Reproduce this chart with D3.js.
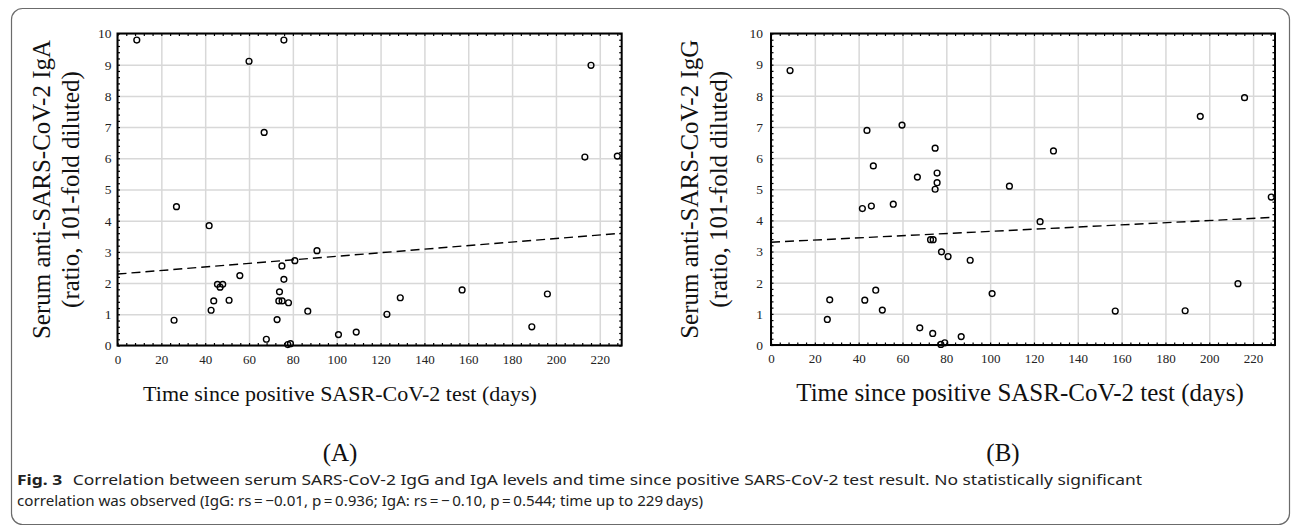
<!DOCTYPE html>
<html>
<head>
<meta charset="utf-8">
<script src="https://cdn.jsdelivr.net/npm/d3@7"></script>
<style>
  body { margin: 0; background: #fff; }
  svg { display: block; }
</style>
</head>
<body>
<div id="chart"></div>
<script>

// Panel A: IgA vs days
var igaDays = [8.8, 60.0, 75.9, 66.9, 216.0, 213.2, 228.0, 26.9, 41.8, 25.8, 42.7, 43.9, 45.6, 46.8, 48.0, 50.9, 55.8, 67.9, 72.8, 73.9, 73.6, 75.1, 75.0, 75.9, 78.0, 77.7, 78.9, 80.9, 91.0, 86.8, 100.8, 108.9, 122.9, 129.0, 157.2, 189.0, 196.1];
var igaValues = [9.79, 9.11, 9.79, 6.83, 8.98, 6.04, 6.07, 4.45, 3.84, 0.81, 1.13, 1.43, 1.96, 1.87, 1.96, 1.45, 2.24, 0.20, 0.83, 1.72, 1.43, 1.43, 2.55, 2.12, 1.37, 0.03, 0.06, 2.72, 3.04, 1.10, 0.35, 0.43, 1.00, 1.53, 1.78, 0.60, 1.65];

// Panel B: IgG vs days
var iggDays = [8.7, 43.8, 59.8, 74.9, 46.7, 66.8, 75.8, 128.9, 195.9, 216.1, 75.8, 74.9, 108.8, 41.7, 45.8, 55.8, 72.8, 74.0, 77.8, 80.8, 90.9, 26.8, 25.7, 42.8, 47.8, 50.8, 67.9, 73.8, 79.3, 77.5, 86.8, 100.9, 122.8, 228.3, 157.1, 189.0, 213.1];
var iggValues = [8.81, 6.89, 7.06, 6.32, 5.75, 5.39, 5.52, 6.23, 7.34, 7.94, 5.21, 5.00, 5.10, 4.38, 4.46, 4.52, 3.38, 3.38, 2.99, 2.84, 2.72, 1.45, 0.82, 1.44, 1.76, 1.12, 0.55, 0.37, 0.07, 0.02, 0.27, 1.65, 3.96, 4.75, 1.09, 1.10, 1.97];

// fitted (dashed) lines, value at start and end of x range
var fitDays = [0, 230];
var igaFit = [2.29, 3.60];
var iggFit = [3.30, 4.10];

var xTickValues = [0, 20, 40, 60, 80, 100, 120, 140, 160, 180, 200, 220];
var yTickValues = [0, 1, 2, 3, 4, 5, 6, 7, 8, 9, 10];

var xTitle = "Time since positive SASR-CoV-2 test (days)";
var captionBold = "Fig. 3";
var captionLine1 = "Correlation between serum SARS-CoV-2 IgG and IgA levels and time since positive SARS-CoV-2 test result. No statistically significant";
var captionLine2 = "correlation was observed (IgG: rs\u2009=\u2009\u22120.01, p\u2009=\u20090.936; IgA: rs\u2009=\u2009\u2212\u20090.10, p\u2009=\u20090.544; time up to 229\u2009days)";

///////////////////////////////////////////////////////////////////////////
//////////////////////////// Set up the svg ///////////////////////////////
///////////////////////////////////////////////////////////////////////////

var width = 1292,
    height = 527;

var svg = d3.select("#chart")
  .append("svg")
  .attr("width", width)
  .attr("height", height);

//Outer rounded frame
svg.append("rect")
  .attr("x", 11.5)
  .attr("y", 8.5)
  .attr("width", 1278)
  .attr("height", 516)
  .attr("rx", 11)
  .style("fill", "none")
  .style("stroke", "#6b6b6b")
  .style("stroke-width", 1.2);

var serif = "Liberation Serif, Times New Roman, serif";

function drawPanel(opts) {
  var x = d3.scaleLinear().domain([0, 230]).range([opts.left, opts.right]);
  var y = d3.scaleLinear().domain([0, 10]).range([opts.bottom, opts.top]);
  var h = opts.bottom - opts.top,
      w = opts.right - opts.left;

  var g = svg.append("g");

  //Gridlines
  g.append("g")
    .attr("transform", "translate(0," + opts.bottom + ")")
    .call(d3.axisBottom(x).tickValues(xTickValues).tickSize(-h).tickFormat(""))
    .call(function(s) {
      s.select(".domain").remove();
      s.selectAll("line").style("stroke", "#d8d8d8").style("stroke-width", 1.5);
    });
  g.append("g")
    .attr("transform", "translate(" + opts.left + ",0)")
    .call(d3.axisLeft(y).tickValues(yTickValues).tickSize(-w).tickFormat(""))
    .call(function(s) {
      s.select(".domain").remove();
      s.selectAll("line").style("stroke", "#d8d8d8").style("stroke-width", 1.5);
    });

  //Inward minor ticks on all four sides
  var minorX = d3.range(0, 231, 4),
      minorY = d3.range(0, 10.01, 0.2);
  function tickStyle(s) {
    s.select(".domain").remove();
    s.selectAll("line").style("stroke", "#000").style("stroke-width", 1.2);
  }
  g.append("g").attr("transform", "translate(0," + opts.bottom + ")")
    .call(d3.axisBottom(x).tickValues(minorX).tickSize(-2.5).tickFormat("")).call(tickStyle);
  g.append("g").attr("transform", "translate(0," + opts.top + ")")
    .call(d3.axisTop(x).tickValues(minorX).tickSize(-2.5).tickFormat("")).call(tickStyle);
  g.append("g").attr("transform", "translate(" + opts.left + ",0)")
    .call(d3.axisLeft(y).tickValues(minorY).tickSize(-2.5).tickFormat("")).call(tickStyle);
  g.append("g").attr("transform", "translate(" + opts.right + ",0)")
    .call(d3.axisRight(y).tickValues(minorY).tickSize(-2.5).tickFormat("")).call(tickStyle);

  //Tick labels
  g.append("g")
    .attr("transform", "translate(0," + opts.bottom + ")")
    .call(d3.axisBottom(x).tickValues(xTickValues).tickSize(0).tickPadding(9))
    .attr("font-family", serif)
    .attr("font-size", 13)
    .call(function(s) {
      s.select(".domain").remove();
      s.selectAll("text").attr("fill", "#222");
    });
  g.append("g")
    .attr("transform", "translate(" + opts.left + ",0)")
    .call(d3.axisLeft(y).tickValues(yTickValues).tickSize(0).tickPadding(opts.yPad))
    .attr("font-family", serif)
    .attr("font-size", 13.5)
    .call(function(s) {
      s.select(".domain").remove();
      s.selectAll("text").attr("fill", "#222");
    });

  //Plot frame
  g.append("rect")
    .attr("x", opts.left)
    .attr("y", opts.top)
    .attr("width", w)
    .attr("height", h)
    .style("fill", "none")
    .style("stroke", "#000")
    .style("stroke-width", 2);

  //Dashed fit line
  var line = d3.line()
    .x(function(d) { return x(d[0]); })
    .y(function(d) { return y(d[1]); });
  g.append("path")
    .datum(d3.zip(fitDays, opts.fit))
    .attr("d", line)
    .style("fill", "none")
    .style("stroke", "#000")
    .style("stroke-width", 1.4)
    .style("stroke-dasharray", "9,5");

  //Points
  g.selectAll(".dot")
    .data(d3.zip(opts.days, opts.values))
    .enter().append("circle")
    .attr("class", "dot")
    .attr("cx", function(d) { return x(d[0]); })
    .attr("cy", function(d) { return y(d[1]); })
    .attr("r", 2.9)
    .style("fill", "none")
    .style("stroke", "#000")
    .style("stroke-width", 1.4);

  //Y title (two lines)
  var cy = (opts.top + opts.bottom) / 2;
  opts.yTitle.forEach(function(t, i) {
    g.append("text")
      .attr("transform", "translate(" + (opts.yTitleX + i * 29) + "," + cy + ") rotate(-90)")
      .attr("text-anchor", "middle")
      .style("font-family", serif)
      .style("font-size", "25px")
      .style("fill", "#111")
      .text(t);
  });

  //X title and panel letter
  g.append("text")
    .attr("x", opts.titleX)
    .attr("y", 401)
    .attr("text-anchor", "middle")
    .style("font-family", serif)
    .style("font-size", opts.titleSize + "px")
    .style("fill", "#111")
    .text(xTitle);

  g.append("text")
    .attr("x", opts.letterX)
    .attr("y", 461)
    .attr("text-anchor", "middle")
    .style("font-family", serif)
    .style("font-size", "25px")
    .style("fill", "#111")
    .text(opts.letter);
}

drawPanel({
  left: 117.5, right: 621.7, top: 33.5, bottom: 345.5,
  days: igaDays, values: igaValues, fit: igaFit,
  yTitle: ["Serum anti-SARS-CoV-2 IgA", "(ratio, 101-fold diluted)"],
  yTitleX: 50, yPad: 6, titleX: 340, titleSize: 22, letterX: 340, letter: "(A)"
});

drawPanel({
  left: 771, right: 1275, top: 33.5, bottom: 345,
  days: iggDays, values: iggValues, fit: iggFit,
  yTitle: ["Serum anti-SARS-CoV-2 IgG", "(ratio, 101-fold diluted)"],
  yTitleX: 698, yPad: 8, titleX: 1020, titleSize: 25, letterX: 1003, letter: "(B)"
});

///////////////////////////////////////////////////////////////////////////
//////////////////////////////// Caption //////////////////////////////////
///////////////////////////////////////////////////////////////////////////

var sans = "'Noto Sans', 'Open Sans', sans-serif";

var cap1 = svg.append("text")
  .attr("x", 17)
  .attr("y", 485)
  .style("font-family", sans)
  .style("font-size", "15px")
  .style("fill", "#222");
cap1.append("tspan").style("font-weight", "bold").text(captionBold);
cap1.append("tspan").attr("dx", 9).text(captionLine1);
cap1.attr("textLength", 1125).attr("lengthAdjust", "spacingAndGlyphs");

svg.append("text")
  .attr("x", 17)
  .attr("y", 506)
  .style("font-family", sans)
  .style("font-size", "15px")
  .style("fill", "#222")
  .attr("textLength", 686)
  .attr("lengthAdjust", "spacingAndGlyphs")
  .text(captionLine2);

</script>
</body>
</html>
